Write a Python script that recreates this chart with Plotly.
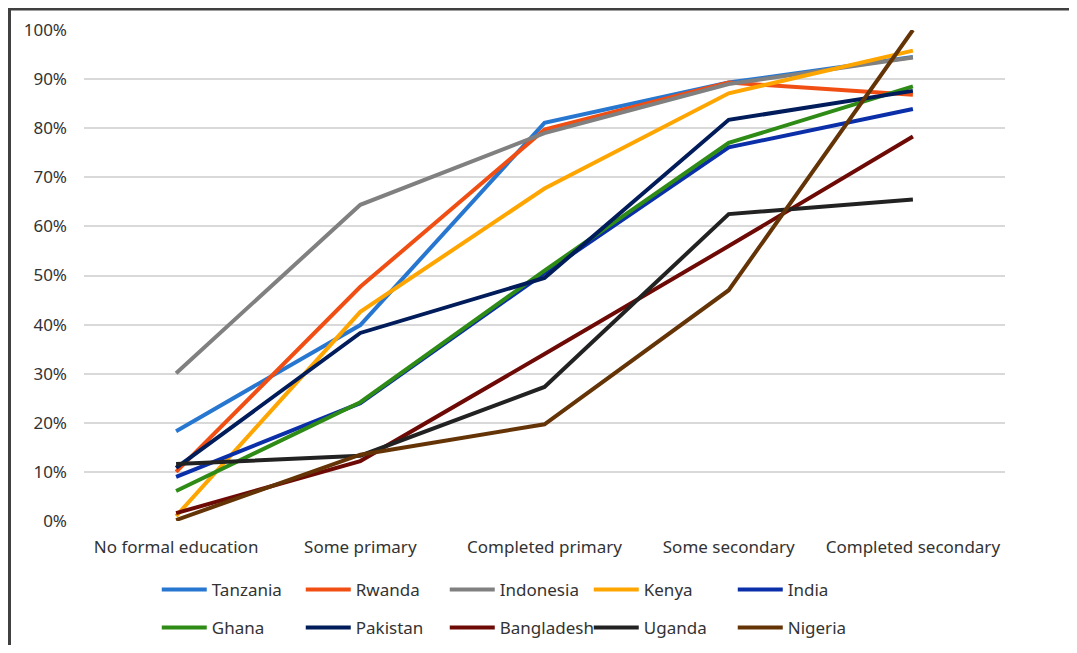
import plotly.graph_objects as go

categories = ["No formal education", "Some primary", "Completed primary",
              "Some secondary", "Completed secondary"]

countries = ["Tanzania", "Rwanda", "Indonesia", "Kenya", "India",
             "Ghana", "Pakistan", "Bangladesh", "Uganda", "Nigeria"]

tanzania   = [0.183, 0.399, 0.811, 0.893, 0.945]
rwanda     = [0.100, 0.477, 0.797, 0.893, 0.868]
indonesia  = [0.301, 0.644, 0.790, 0.890, 0.944]
kenya      = [0.010, 0.426, 0.677, 0.871, 0.958]
india      = [0.090, 0.240, 0.505, 0.761, 0.839]
ghana      = [0.061, 0.242, 0.510, 0.770, 0.885]
pakistan   = [0.108, 0.383, 0.495, 0.817, 0.876]
bangladesh = [0.016, 0.122, 0.340, 0.560, 0.783]
uganda     = [0.116, 0.133, 0.273, 0.625, 0.655]
nigeria    = [0.002, 0.135, 0.197, 0.470, 1.000]

values = [tanzania, rwanda, indonesia, kenya, india,
          ghana, pakistan, bangladesh, uganda, nigeria]

colors = ["#2777D1", "#F04E13", "#808080", "#FFA500", "#0A2FA8",
          "#2E8B16", "#001C5A", "#6E0A05", "#222222", "#643407"]

FONT = "Noto Sans"
TXT = "#333333"

fig = go.Figure()
for i, (name, vals, col) in enumerate(zip(countries, values, colors)):
    fig.add_trace(go.Scatter(
        x=categories, y=vals, name=name, mode="lines",
        line=dict(color=col, width=4),
        legend="legend" if i < 5 else "legend2",
    ))

legend_common = dict(
    orientation="h", xref="paper", yref="paper", xanchor="left", yanchor="middle",
    itemwidth=45, entrywidth=84, entrywidthmode="pixels",
    font=dict(family=FONT, size=17, color=TXT),
    bgcolor="rgba(0,0,0,0)", traceorder="normal",
    itemclick=False, itemdoubleclick=False,
)

fig.update_layout(
    width=1061, height=637,
    margin=dict(l=76, r=64, t=22, b=124, autoexpand=False),
    paper_bgcolor="white", plot_bgcolor="white",
    font=dict(family=FONT, size=17, color=TXT),
    legend=dict(x=0.079, y=-0.1405, **legend_common),
    legend2=dict(x=0.079, y=-0.218, **legend_common),
    xaxis=dict(
        range=[-0.5, 4.5], automargin=False,
        showgrid=False, showline=False, zeroline=False,
        ticks="", ticklabelstandoff=14,
        tickfont=dict(family=FONT, size=17, color=TXT),
    ),
    yaxis=dict(
        range=[0, 1], dtick=0.1, tickformat=".0%", automargin=False,
        showgrid=True, gridcolor="#D9D9D9", gridwidth=1.5,
        zeroline=False, showline=False, ticks="", ticklabelstandoff=16,
        tickfont=dict(family=FONT, size=17, color=TXT),
    ),
    shapes=[dict(
        type="rect", xref="paper", yref="paper",
        x0=-0.0809, x1=1.2, y0=-0.5, y1=1.0428,
        line=dict(color="#404040", width=3), fillcolor="rgba(0,0,0,0)",
        layer="below",
    )],
)

fig.write_html("out.html")
